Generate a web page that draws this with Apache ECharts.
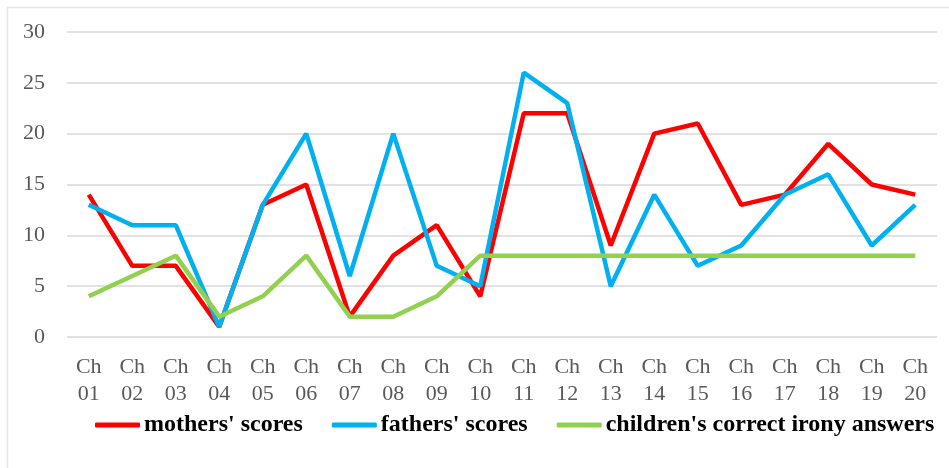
<!DOCTYPE html>
<html>
<head>
<meta charset="utf-8">
<script src="https://cdn.jsdelivr.net/npm/echarts@6/dist/echarts.min.js"></script>
<style>
  html, body { margin: 0; padding: 0; background: #fff; }
  #chart { width: 949px; height: 468px; }
</style>
</head>
<body>
<div id="chart"></div>
<script>
const categories = ["Ch\n01", "Ch\n02", "Ch\n03", "Ch\n04", "Ch\n05", "Ch\n06", "Ch\n07", "Ch\n08", "Ch\n09", "Ch\n10",
  "Ch\n11", "Ch\n12", "Ch\n13", "Ch\n14", "Ch\n15", "Ch\n16", "Ch\n17", "Ch\n18", "Ch\n19", "Ch\n20"];
const mothers = [14, 7, 7, 1, 13, 15, 2, 8, 11, 4, 22, 22, 9, 20, 21, 13, 14, 19, 15, 14];
const fathers = [13, 11, 11, 1, 13, 20, 6, 20, 7, 5, 26, 23, 5, 14, 7, 9, 14, 16, 9, 13];
const children = [4, 6, 8, 2, 4, 8, 2, 2, 4, 8, 8, 8, 8, 8, 8, 8, 8, 8, 8, 8];

const serif = "'Liberation Serif', 'DejaVu Serif', serif";
const chart = echarts.init(document.getElementById("chart"));

const line = (name, data, color) => ({
  name,
  type: "line",
  data,
  symbol: "none",
  lineStyle: { width: 4.5, color },
  itemStyle: { color },
});

chart.setOption({
  animation: false,
  backgroundColor: "#fff",
  graphic: [{
    type: "rect",
    shape: { x: 7.5, y: 7.5, width: 1000, height: 1000 },
    style: { fill: "none", stroke: "#e6e6e6", lineWidth: 1.5 },
    silent: true,
  }],
  grid: { left: 67, right: 12, top: 32, bottom: 131 },
  legend: {
    left: 90,
    top: 408,
    itemWidth: 45,
    itemHeight: 5,
    itemGap: 29,
    icon: "roundRect",
    textStyle: { fontFamily: serif, fontSize: 24, fontWeight: "bold", color: "#000", padding: [0, 0, 0, -1] },
    data: ["mothers' scores", "fathers' scores", "children's correct irony answers"],
  },
  xAxis: {
    type: "category",
    data: categories,
    boundaryGap: true,
    axisLine: { show: false },
    axisTick: { show: false },
    axisLabel: {
      interval: 0,
      margin: 17,
      fontFamily: serif,
      fontSize: 22,
      lineHeight: 27,
      color: "#595959",
    },
  },
  yAxis: {
    type: "value",
    min: 0,
    max: 30,
    interval: 5,
    axisLine: { show: false },
    axisTick: { show: false },
    axisLabel: { margin: 22, fontFamily: serif, fontSize: 22, color: "#595959" },
    splitLine: { lineStyle: { color: "#d9d9d9", width: 1.5 } },
  },
  series: [
    line("mothers' scores", mothers, "#ff0000"),
    line("fathers' scores", fathers, "#00b0f0"),
    line("children's correct irony answers", children, "#92d050"),
  ],
});
</script>
</body>
</html>
